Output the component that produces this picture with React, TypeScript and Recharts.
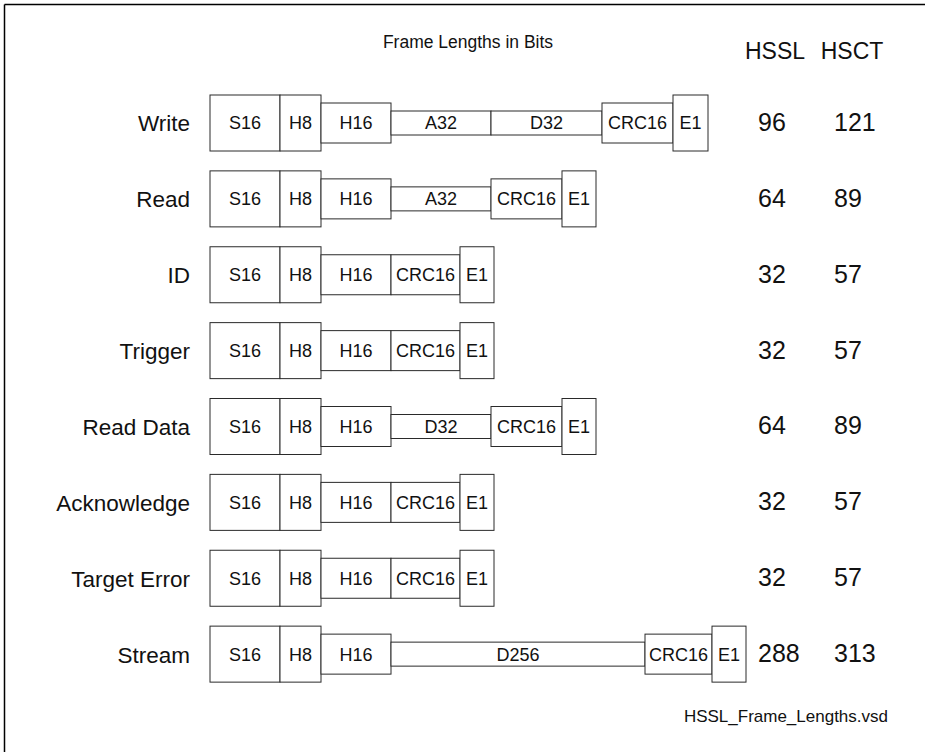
import { BarChart, Bar, XAxis, YAxis, LabelList } from "recharts";

// frame types, top to bottom
const frames = ["Write", "Read", "ID", "Trigger", "Read Data", "Acknowledge", "Target Error", "Stream"];

// drawn box widths of each field (drawing units, not bits)
const syncWidth = [7, 7, 7, 7, 7, 7, 7, 7];
const hdr8Width = [4.1, 4.1, 4.1, 4.1, 4.1, 4.1, 4.1, 4.1];
const hdr16Width = [7, 7, 7, 7, 7, 7, 7, 7];
const addrWidth = [10, 10, 0, 0, 0, 0, 0, 0];
const dataWidth = [11.1, 0, 0, 0, 10, 0, 0, 25.4];
const crcWidth = [7.1, 7.1, 6.9, 6.9, 7.1, 6.9, 6.9, 6.7];
const endWidth = [3.5, 3.4, 3.4, 3.4, 3.4, 3.4, 3.4, 3.4];

// field names written in the boxes
const addrLabel = ["A32", "A32", "", "", "", "", "", ""];
const dataLabel = ["D32", "", "", "", "D32", "", "", "D256"];

// total frame lengths in bits
const hsslBits = [96, 64, 32, 32, 64, 32, 32, 288];
const hsctBits = [121, 89, 57, 57, 89, 57, 57, 313];

const data = frames.map((name, i) => ({
  name,
  s: syncWidth[i],
  h8: hdr8Width[i],
  h16: hdr16Width[i],
  a: addrWidth[i],
  d: dataWidth[i],
  crc: crcWidth[i],
  e: endWidth[i],
  sLabel: "S16",
  h8Label: "H8",
  h16Label: "H16",
  aLabel: addrLabel[i],
  dLabel: dataLabel[i],
  crcLabel: "CRC16",
  eLabel: "E1",
}));

const FONT = "'Liberation Sans', Arial, sans-serif";
const INK = "#2a2a2a";

const boxShape = (h: number) => (props: any) => {
  const { x, y, width, height } = props;
  if (!width || width <= 0) return <g />;
  const cy = y + height / 2;
  return (
    <rect
      x={x}
      y={cy - h / 2}
      width={width}
      height={h}
      fill="#fff"
      stroke={INK}
      strokeWidth={1}
    />
  );
};

const FrameTick = (props: any) => {
  const { y, payload, index } = props;
  return (
    <g fontFamily={FONT} fill="#111">
      <text x={190} y={y + 1} textAnchor="end" dominantBaseline="central" fontSize={22.5}>
        {payload.value}
      </text>
      <text x={758} y={y - 1} textAnchor="start" dominantBaseline="central" fontSize={25}>
        {hsslBits[index]}
      </text>
      <text x={834} y={y - 1} textAnchor="start" dominantBaseline="central" fontSize={25}>
        {hsctBits[index]}
      </text>
    </g>
  );
};

const fields = [
  { key: "s", label: "sLabel", h: 56 },
  { key: "h8", label: "h8Label", h: 56 },
  { key: "h16", label: "h16Label", h: 40 },
  { key: "a", label: "aLabel", h: 24 },
  { key: "d", label: "dLabel", h: 24 },
  { key: "crc", label: "crcLabel", h: 40 },
  { key: "e", label: "eLabel", h: 56 },
];

export default function App() {
  return (
    <div style={{ position: "absolute", left: 0, top: 0, width: 925, height: 752, background: "#fff" }}>
      <BarChart
        layout="vertical"
        width={925}
        height={752}
        data={data}
        margin={{ top: 85, right: 115, bottom: 60, left: 0 }}
        barCategoryGap={0}
      >
        <XAxis type="number" domain={[0, 60]} hide />
        <YAxis
          type="category"
          dataKey="name"
          width={210}
          axisLine={false}
          tickLine={false}
          interval={0}
          tick={<FrameTick />}
        />
        {fields.map((f) => (
          <Bar
            key={f.key}
            dataKey={f.key}
            stackId="frame"
            barSize={56}
            isAnimationActive={false}
            shape={boxShape(f.h)}
          >
            <LabelList
              dataKey={f.label}
              position="center"
              fill="#111"
              fontSize={18}
              fontFamily={FONT}
            />
          </Bar>
        ))}
      </BarChart>
      <svg
        width={925}
        height={752}
        style={{ position: "absolute", left: 0, top: 0, pointerEvents: "none" }}
        fontFamily={FONT}
        fill="#111"
      >
        <line x1={4.5} y1={4.5} x2={925} y2={4.5} stroke="#000" strokeWidth={1.5} />
        <line x1={4.5} y1={4.5} x2={4.5} y2={752} stroke="#000" strokeWidth={1.5} />
        <text x={468} y={48} textAnchor="middle" fontSize={17.5}>
          Frame Lengths in Bits
        </text>
        <text x={775} y={59} textAnchor="middle" fontSize={23}>
          HSSL
        </text>
        <text x={852} y={59} textAnchor="middle" fontSize={23}>
          HSCT
        </text>
        <text x={888} y={722} textAnchor="end" fontSize={17}>
          HSSL_Frame_Lengths.vsd
        </text>
      </svg>
    </div>
  );
}
